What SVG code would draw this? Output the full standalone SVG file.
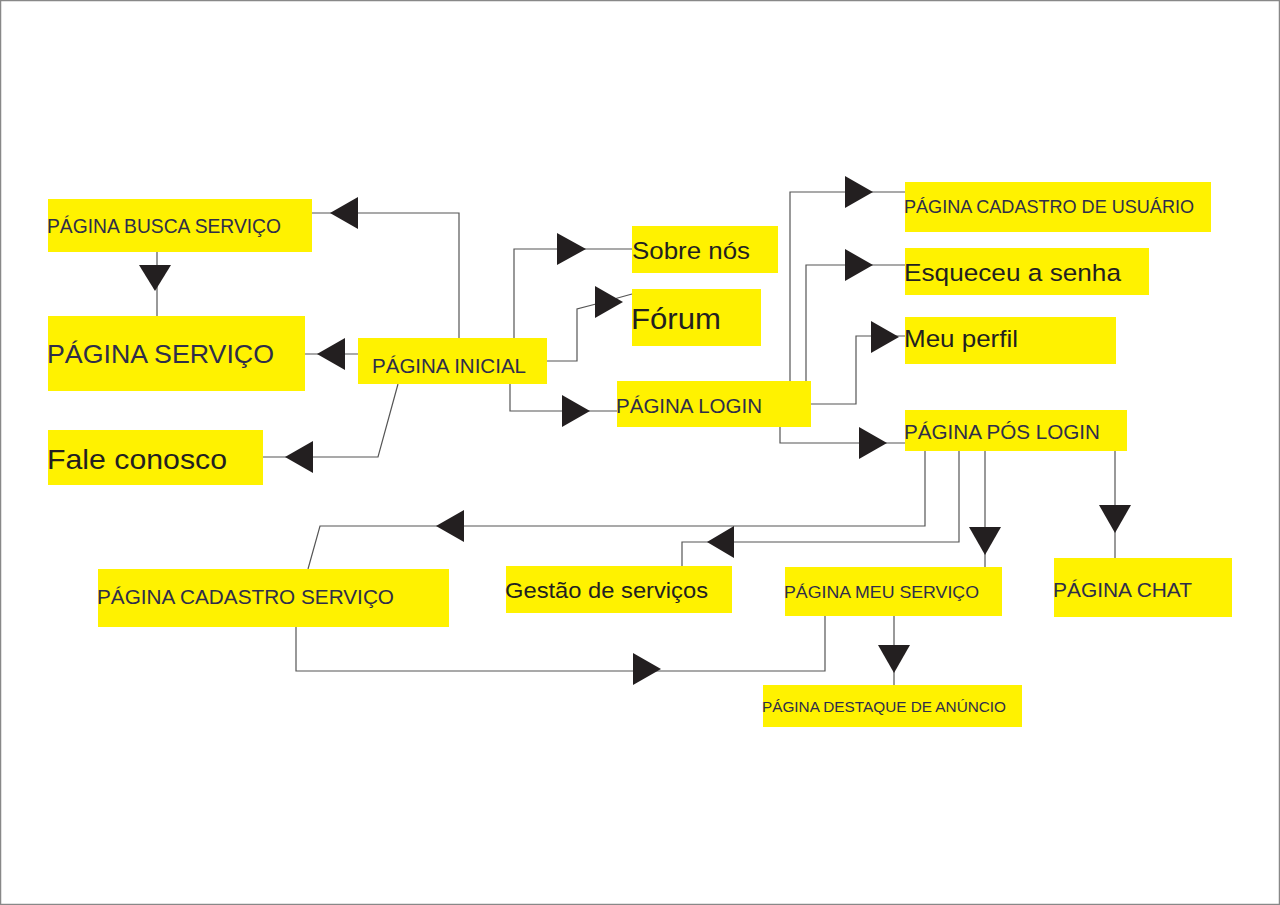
<svg xmlns="http://www.w3.org/2000/svg" width="1280" height="905" viewBox="0 0 1280 905">
<style>
.box{fill:#fff200}
.t{font-family:"Liberation Sans",Arial,sans-serif;fill:#2e2d4a}
.k{font-family:"Liberation Sans",Arial,sans-serif;fill:#231f20}
.ln{fill:none;stroke:#555;stroke-width:1.2}
.ar{fill:#231f20}
</style>
<rect x="0.5" y="0.5" width="1279" height="904" fill="#fff" stroke="#888" stroke-width="1.5"/>
<g id="connectors">
<polyline class="ln" points="459,338 459,213 312,213"/>
<polygon class="ar" points="330,213 358,197 358,229"/>
<polyline class="ln" points="358,354 305,354"/>
<polygon class="ar" points="317,354 345,338 345,370"/>
<polyline class="ln" points="157,252 157,316"/>
<polygon class="ar" points="139,265 171,265 155,291"/>
<polyline class="ln" points="398,384 378,457 263,457"/>
<polygon class="ar" points="285,457 313,441 313,473"/>
<polyline class="ln" points="514,338 514,249 632,249"/>
<polygon class="ar" points="586,249 557,233 557,265"/>
<polyline class="ln" points="547,361 577,361 577,309 596,304 632,294"/>
<polygon class="ar" points="623,302 595,286 595,318"/>
<polyline class="ln" points="510,384 510,411 617,411"/>
<polygon class="ar" points="590,411 562,395 562,427"/>
<polyline class="ln" points="790,381 790,192 905,192"/>
<polygon class="ar" points="873,192 845,176 845,208"/>
<polyline class="ln" points="806,381 806,265 905,265"/>
<polygon class="ar" points="873,265 845,249 845,281"/>
<polyline class="ln" points="811,404 856,404 856,336 905,336"/>
<polygon class="ar" points="899,337 871,321 871,353"/>
<polyline class="ln" points="780,427 780,443 905,443"/>
<polygon class="ar" points="887,443 859,427 859,459"/>
<polyline class="ln" points="925,451 925,526 320,526 308,569"/>
<polygon class="ar" points="436,526 464,510 464,542"/>
<polyline class="ln" points="959,451 959,542 682,542 682,566"/>
<polygon class="ar" points="707,542 734,526 734,558"/>
<polyline class="ln" points="985,451 985,567"/>
<polygon class="ar" points="969,527 1001,527 985,555"/>
<polyline class="ln" points="1115,451 1115,558"/>
<polygon class="ar" points="1099,505 1131,505 1115,533"/>
<polyline class="ln" points="894,616 894,685"/>
<polygon class="ar" points="878,645 910,645 894,673"/>
<polyline class="ln" points="296,627 296,671 825,671 825,616"/>
<polygon class="ar" points="661,669 633,653 633,685"/>
</g>
<g id="busca"><rect class="box" x="48" y="199" width="264" height="53"/><text class="t" x="47" y="233" font-size="19.5" textLength="234" lengthAdjust="spacingAndGlyphs">PÁGINA BUSCA SERVIÇO</text></g>
<g id="servico"><rect class="box" x="48" y="316" width="257" height="75"/><text class="t" x="47" y="363" font-size="26.5" textLength="227" lengthAdjust="spacingAndGlyphs">PÁGINA SERVIÇO</text></g>
<g id="fale"><rect class="box" x="48" y="430" width="215" height="55"/><text class="k" x="47" y="469" font-size="28" textLength="180" lengthAdjust="spacingAndGlyphs">Fale conosco</text></g>
<g id="inicial"><rect class="box" x="358" y="338" width="189" height="46"/><text class="t" x="372" y="373" font-size="19.5" textLength="154" lengthAdjust="spacingAndGlyphs">PÁGINA INICIAL</text></g>
<g id="sobre"><rect class="box" x="632" y="226" width="146" height="47"/><text class="k" x="632" y="259" font-size="24" textLength="118" lengthAdjust="spacingAndGlyphs">Sobre nós</text></g>
<g id="forum"><rect class="box" x="632" y="289" width="129" height="57"/><text class="k" x="631" y="329" font-size="29.5" textLength="90" lengthAdjust="spacingAndGlyphs">Fórum</text></g>
<g id="login"><rect class="box" x="617" y="381" width="194" height="46"/><text class="t" x="616" y="413" font-size="20" textLength="146" lengthAdjust="spacingAndGlyphs">PÁGINA LOGIN</text></g>
<g id="cadusuario"><rect class="box" x="905" y="182" width="306" height="50"/><text class="t" x="904" y="213" font-size="17.5" textLength="290" lengthAdjust="spacingAndGlyphs">PÁGINA CADASTRO DE USUÁRIO</text></g>
<g id="esqueceu"><rect class="box" x="905" y="248" width="244" height="47"/><text class="k" x="904" y="281" font-size="24.5" textLength="217" lengthAdjust="spacingAndGlyphs">Esqueceu a senha</text></g>
<g id="perfil"><rect class="box" x="905" y="317" width="211" height="47"/><text class="k" x="904" y="347" font-size="24.5" textLength="114" lengthAdjust="spacingAndGlyphs">Meu perfil</text></g>
<g id="poslogin"><rect class="box" x="905" y="410" width="222" height="41"/><text class="t" x="904" y="439" font-size="19.5" textLength="196" lengthAdjust="spacingAndGlyphs">PÁGINA PÓS LOGIN</text></g>
<g id="chat"><rect class="box" x="1054" y="558" width="178" height="59"/><text class="t" x="1053" y="597" font-size="19.5" textLength="139" lengthAdjust="spacingAndGlyphs">PÁGINA CHAT</text></g>
<g id="meuservico"><rect class="box" x="785" y="567" width="217" height="49"/><text class="t" x="784" y="598" font-size="17" textLength="195" lengthAdjust="spacingAndGlyphs">PÁGINA MEU SERVIÇO</text></g>
<g id="gestao"><rect class="box" x="506" y="566" width="226" height="47"/><text class="k" x="505" y="598" font-size="22" textLength="203" lengthAdjust="spacingAndGlyphs">Gestão de serviços</text></g>
<g id="cadservico"><rect class="box" x="98" y="569" width="351" height="58"/><text class="t" x="97" y="604" font-size="20" textLength="297" lengthAdjust="spacingAndGlyphs">PÁGINA CADASTRO SERVIÇO</text></g>
<g id="destaque"><rect class="box" x="763" y="685" width="259" height="42"/><text class="t" x="762" y="712" font-size="14" textLength="244" lengthAdjust="spacingAndGlyphs">PÁGINA DESTAQUE DE ANÚNCIO</text></g>
</svg>
